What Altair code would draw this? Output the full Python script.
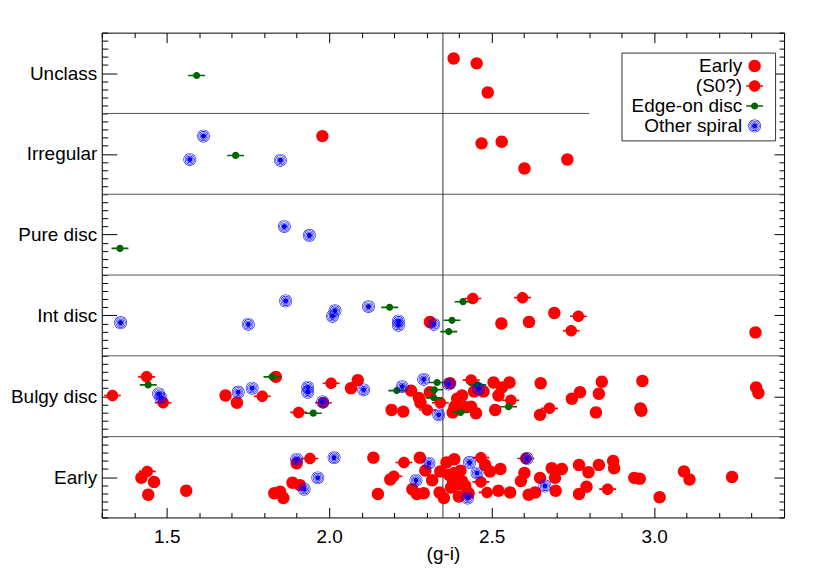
import altair as alt
import pandas as pd

FONT = "Liberation Sans"
MORPH = ["Early", "Bulgy disc", "Int disc", "Pure disc", "Irregular", "Unclass"]
TYPES = ["Early", "(S0?)", "Edge-on disc", "Other spiral"]
CODE = {"E": "Early", "S": "(S0?)", "G": "Edge-on disc", "B": "Other spiral"}
COLORS = ["#ff0000", "#ff0000", "#006400", "#0000ff"]

# ---- data: (g-i) colour, position inside band, marker ----
unclass_gi = [1.592, 2.383, 2.454, 2.488]
unclass_pos = [0.47, 0.68, 0.62, 0.26]
unclass_sym = ["G", "E", "E", "E"]

irr_gi = [1.613, 1.571, 1.712, 1.850, 1.979, 2.469, 2.531, 2.733, 2.601]
irr_pos = [0.72, 0.43, 0.48, 0.42, 0.72, 0.63, 0.65, 0.43, 0.32]
irr_sym = ["B", "B", "G", "B", "E", "E", "E", "E", "E"]

pure_gi = [1.356, 1.862, 1.939]
pure_pos = [0.33, 0.60, 0.49]
pure_sym = ["G", "B", "B"]

int_gi = [1.358, 1.751, 1.866, 2.018, 2.010, 2.121, 2.213, 2.213, 2.186, 2.310, 2.322,
          2.378, 2.368, 2.412, 2.442, 2.595, 2.693, 2.767, 2.530, 2.615, 2.745, 3.312]
int_pos = [0.41, 0.39, 0.68, 0.56, 0.49, 0.61, 0.43, 0.38, 0.60, 0.42, 0.39,
           0.44, 0.30, 0.67, 0.71, 0.72, 0.53, 0.49, 0.40, 0.42, 0.31, 0.29]
int_sym = ["B", "B", "B", "B", "B", "B", "B", "B", "G", "E", "B",
           "G", "G", "G", "S", "S", "E", "S", "E", "E", "S", "E"]

bulgy_gi = [1.333, 1.438, 1.443, 1.475, 1.482, 1.489, 1.681, 1.716, 1.720, 1.763,
            1.794, 1.836, 1.824, 1.934, 1.934, 1.982, 1.980, 1.906, 1.951, 2.006,
            2.088, 2.067, 2.106, 2.192, 2.228, 2.208, 2.225, 2.252, 2.291, 2.276,
            2.281, 2.302, 2.310, 2.332, 2.324, 2.322, 2.342, 2.337, 2.372, 2.368,
            2.380, 2.404, 2.394, 2.409, 2.386, 2.419, 2.437, 2.437, 2.457, 2.460,
            2.446, 2.475, 2.452, 2.506, 2.521, 2.532, 2.555, 2.511, 2.559, 2.552,
            2.651, 2.678, 2.649, 2.747, 2.772, 2.839, 2.830, 2.821, 2.964, 2.961,
            2.958, 3.314, 3.321]
bulgy_pos = [0.51, 0.74, 0.64, 0.53, 0.48, 0.42, 0.51, 0.42, 0.55, 0.60,
             0.50, 0.74, 0.74, 0.61, 0.55, 0.42, 0.43, 0.30, 0.29, 0.66,
             0.70, 0.60, 0.58, 0.33, 0.31, 0.57, 0.62, 0.57, 0.71, 0.48,
             0.42, 0.33, 0.55, 0.67, 0.58, 0.48, 0.42, 0.27, 0.66, 0.65,
             0.30, 0.30, 0.47, 0.51, 0.37, 0.37, 0.37, 0.70, 0.64, 0.59,
             0.56, 0.56, 0.29, 0.67, 0.51, 0.61, 0.67, 0.33, 0.45, 0.37,
             0.66, 0.35, 0.27, 0.47, 0.55, 0.68, 0.53, 0.30, 0.69, 0.32,
             0.35, 0.61, 0.54]
bulgy_sym = ["S", "S", "G", "B", "B", "S", "E", "E", "B", "B",
             "S", "E", "G", "B", "B", "S", "B", "S", "G", "S",
             "E", "E", "B", "E", "E", "G", "B", "E", "B", "E",
             "E", "S", "E", "G", "G", "G", "S", "B", "E", "B",
             "E", "G", "E", "E", "E", "S", "E", "S", "G", "B",
             "E", "E", "E", "E", "E", "E", "E", "E", "S", "G",
             "E", "S", "E", "E", "E", "E", "E", "E", "E", "E",
             "E", "E", "E"]

early_gi = [1.440, 1.422, 1.461, 1.443, 1.560, 1.831, 1.849, 1.859, 1.900, 1.900,
            1.941, 2.015, 1.965, 1.887, 1.910, 1.923, 2.136, 2.150, 2.230, 2.199,
            2.188, 2.279, 2.307, 2.296, 2.267, 2.317, 2.256, 2.270, 2.291, 2.340,
            2.353, 2.342, 2.361, 2.385, 2.368, 2.386, 2.404, 2.380, 2.409, 2.395,
            2.375, 2.419, 2.399, 2.426, 2.429, 2.432, 2.455, 2.467, 2.480, 2.495,
            2.467, 2.486, 2.527, 2.521, 2.557, 2.601, 2.590, 2.605, 2.609, 2.614,
            2.634, 2.649, 2.664, 2.685, 2.716, 2.695, 2.697, 2.769, 2.798, 2.769,
            2.792, 2.830, 2.857, 2.874, 2.877, 2.939, 2.956, 3.017, 3.092, 3.109,
            3.240]
early_pos = [0.57, 0.49, 0.44, 0.28, 0.33, 0.30, 0.32, 0.24, 0.67, 0.72,
             0.73, 0.74, 0.49, 0.43, 0.40, 0.35, 0.74, 0.29, 0.68, 0.51,
             0.47, 0.74, 0.67, 0.58, 0.46, 0.46, 0.35, 0.29, 0.30, 0.31,
             0.24, 0.57, 0.68, 0.72, 0.53, 0.55, 0.58, 0.47, 0.45, 0.41,
             0.37, 0.39, 0.26, 0.24, 0.30, 0.68, 0.55, 0.74, 0.65, 0.57,
             0.44, 0.31, 0.60, 0.33, 0.31, 0.55, 0.45, 0.73, 0.73, 0.28,
             0.31, 0.49, 0.39, 0.61, 0.60, 0.49, 0.33, 0.65, 0.56, 0.29,
             0.38, 0.65, 0.35, 0.70, 0.61, 0.49, 0.48, 0.25, 0.57, 0.47,
             0.50]
early_sym = ["S", "E", "E", "E", "E", "E", "E", "E", "E", "B",
             "S", "B", "B", "E", "E", "B", "E", "E", "S", "S",
             "E", "E", "B", "E", "B", "E", "E", "E", "E", "E",
             "E", "E", "E", "E", "E", "E", "E", "E", "E", "E",
             "E", "E", "E", "B", "E", "B", "B", "S", "E", "E",
             "S", "S", "E", "E", "E", "E", "E", "S", "B", "E",
             "E", "E", "B", "E", "E", "E", "E", "E", "E", "E",
             "E", "E", "S", "E", "E", "E", "E", "E", "E", "E",
             "E"]

# axis tick values and reference lines
x_ticks = [1.3, 1.4, 1.5, 1.6, 1.7, 1.8, 1.9, 2.0, 2.1, 2.2, 2.3, 2.4, 2.5, 2.6,
           2.7, 2.8, 2.9, 3.0, 3.1, 3.2, 3.3, 3.4]
y_ticks = [round(i * 0.1, 1) for i in range(61)]
sep_y = [1, 2, 3, 4, 5]
sep_x1 = [1.3, 1.3, 1.3, 1.3, 1.3]
sep_x2 = [3.4, 3.4, 3.4, 3.4, 2.8]
vline_x = [2.35]

bands = [
    (early_gi, early_pos, early_sym),
    (bulgy_gi, bulgy_pos, bulgy_sym),
    (int_gi, int_pos, int_sym),
    (pure_gi, pure_pos, pure_sym),
    (irr_gi, irr_pos, irr_sym),
    (unclass_gi, unclass_pos, unclass_sym),
]
rows = []
for bi, (g, p, s) in enumerate(bands):
    for gi, pos, sym in zip(g, p, s):
        rows.append({"gi": gi, "y": bi + pos, "morph": MORPH[bi], "type": CODE[sym],
                     "order": TYPES.index(CODE[sym])})
pts = pd.DataFrame(rows).sort_values("order", kind="stable")

seps = pd.DataFrame({"x1": sep_x1, "x2": sep_x2, "y": sep_y})
vline = pd.DataFrame({"x": vline_x, "y1": [0], "y2": [6]})


# ---- marker shapes (unit = half of sqrt(size)) ----
def circ(r, cw=True):
    s = 1 if cw else 0
    return (f"M{r:.3f},0A{r:.3f},{r:.3f} 0 1,{s} {-r:.3f},0"
            f"A{r:.3f},{r:.3f} 0 1,{s} {r:.3f},0Z")


def bar(a, b):
    return f"M{-a:.3f},{-b:.3f}L{a:.3f},{-b:.3f}L{a:.3f},{b:.3f}L{-a:.3f},{b:.3f}Z"


def ring(ro, t):
    return circ(ro, True) + circ(ro - t, False)


EXT = "M1.800,0L1.800,0"
SHAPES = [
    circ(0.69) + EXT,
    circ(0.64) + bar(0.94, 0.09) + EXT,
    circ(0.40) + bar(0.94, 0.09) + EXT,
    circ(0.29) + ring(0.41, 0.065) + ring(0.56, 0.065) + ring(0.71, 0.065) + EXT,
]

xs = alt.Scale(domain=[1.3, 3.4], nice=False, zero=False)
ys = alt.Scale(domain=[0, 6], nice=False, zero=False)

MAJ_X = "abs(datum.value * 2 - round(datum.value * 2)) < 0.01"
MAJ_Y = "abs(datum.value - floor(datum.value) - 0.5) < 0.01"
names_js = "[" + ",".join(f"'{m}'" for m in MORPH) + "]"

common = dict(domain=False, grid=False, tickColor="black", tickWidth=1,
              labelFont=FONT, labelFontSize=19, labelColor="black",
              labelOverlap=False, labelFlush=False)

x_bottom = alt.Axis(
    orient="bottom", values=x_ticks, tickSize={"expr": "-10"},
    tickDash={"condition": {"test": MAJ_X, "value": [100, 0]}, "value": [5, 100]},
    labelExpr=f"{MAJ_X} ? format(datum.value, '.1f') : ''",
    labelPadding=20, title="(g-i)", titleFont=FONT, titleFontSize=19,
    titleFontWeight="normal", titleColor="black", titlePadding={"expr": "-2"}, **common)
y_left = alt.Axis(
    orient="left", values=y_ticks, tickSize={"expr": "-15"},
    tickDash={"condition": {"test": MAJ_Y, "value": [100, 0]}, "value": [6, 100]},
    labelExpr=f"{MAJ_Y} ? {names_js}[floor(datum.value)] : ''",
    labelPadding=20, title=None, **common)
x_top = alt.Axis(
    orient="top", values=x_ticks, tickSize={"expr": "-10"}, labels=False,
    tickDash={"condition": {"test": MAJ_X, "value": [100, 0]}, "value": [5, 100]},
    title=None, domain=False, grid=False, tickColor="black", tickWidth=1)
y_right = alt.Axis(
    orient="right", values=y_ticks, tickSize={"expr": "-10"}, labels=False,
    tickDash={"condition": {"test": MAJ_Y, "value": [100, 0]}, "value": [5, 100]},
    title=None, domain=False, grid=False, tickColor="black", tickWidth=1)

sep_layer = alt.Chart(seps).mark_rule(color="#555555", strokeWidth=1).encode(
    x=alt.X("x1:Q", scale=xs, axis=x_bottom),
    x2="x2:Q",
    y=alt.Y("y:Q", scale=ys, axis=y_left),
)

vline_layer = alt.Chart(vline).mark_rule(color="#333333", strokeWidth=1).encode(
    x=alt.X("x:Q", scale=xs, axis=x_top),
    y=alt.Y("y1:Q", scale=ys, axis=y_right),
    y2="y2:Q",
)

legend = alt.Legend(
    orient="none", legendX=521, legendY=20, title=None,
    labelFont=FONT, labelFontSize=19, labelColor="black", labelLimit=400,
    labelAlign="right", labelOffset={"expr": "-22"}, symbolOffset=120,
    symbolSize=324, symbolStrokeWidth=0, symbolOpacity=1,
    padding=4, rowPadding={"expr": "-1"}, strokeColor="#333333", fillColor="white",
)

pt_layer = alt.Chart(pts).mark_point(filled=True, size=324, opacity=1, strokeWidth=0).encode(
    x=alt.X("gi:Q", scale=xs, axis=None),
    y=alt.Y("y:Q", scale=ys, axis=None),
    color=alt.Color("type:N", scale=alt.Scale(domain=TYPES, range=COLORS), legend=legend),
    shape=alt.Shape("type:N", scale=alt.Scale(domain=TYPES, range=SHAPES), legend=legend),
)

chart = alt.layer(sep_layer, vline_layer, pt_layer).resolve_axis(
    x="independent", y="independent"
).properties(
    width=684, height=486,
    autosize=alt.AutoSizeParams(type="none"),
    padding={"left": 94, "top": 24, "right": 25, "bottom": 60},
).configure_view(stroke="black", strokeWidth=1)

chart.save("out.html", embed_options={"renderer": "svg", "actions": False})
